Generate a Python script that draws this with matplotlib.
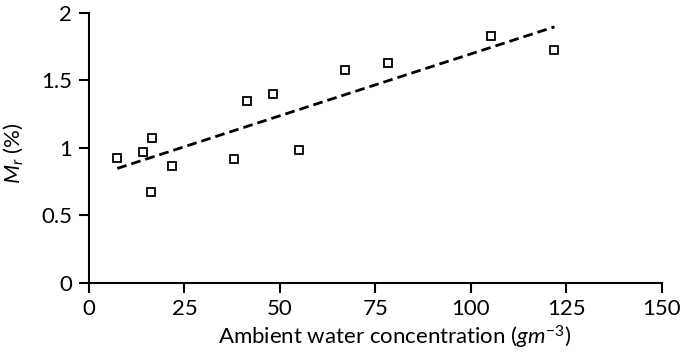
import numpy as np
import matplotlib
matplotlib.use("Agg")
import matplotlib.pyplot as plt

plt.rcParams["font.family"] = ["Lato", "DejaVu Sans"]
plt.rcParams["mathtext.fontset"] = "custom"
plt.rcParams["mathtext.rm"] = "Lato"
plt.rcParams["mathtext.it"] = "Lato:italic"

# ambient water concentration (g/m3) vs M_r (%)
water_conc = [7.4, 14.2, 16.4, 16.3, 21.8, 38.1, 41.4, 48.2, 55.1, 67.1, 78.2, 105.2, 121.9]
mr_pct = [0.926, 0.968, 1.072, 0.672, 0.867, 0.919, 1.346, 1.403, 0.981, 1.581, 1.630, 1.833, 1.724]

x_ticks = [0, 25, 50, 75, 100, 125, 150]
y_ticks = [0, 0.5, 1, 1.5, 2]
y_labels = ["0", "0.5", "1", "1.5", "2"]

fig = plt.figure(figsize=(6.81, 3.6), dpi=100)
ax = fig.add_axes([0.1307, 0.2147, 0.841, 0.7492])

ax.plot(water_conc, mr_pct, linestyle="none", marker="s", markersize=6,
        markerfacecolor="white", markeredgecolor="black", markeredgewidth=1.3)

# linear trend line over the data range
slope, icept = np.polyfit(water_conc, mr_pct, 1)
xs = np.array([min(water_conc), max(water_conc)])
ax.plot(xs, slope * xs + icept, color="black", linewidth=2, linestyle=(0, (3.5, 1.8)))

ax.set_xlim(0, 150)
ax.set_ylim(0, 2)
ax.set_xticks(x_ticks)
ax.set_yticks(y_ticks)
ax.set_yticklabels(y_labels)

for side in ["top", "right"]:
    ax.spines[side].set_visible(False)
for side in ["left", "bottom"]:
    ax.spines[side].set_linewidth(1.5)
ax.tick_params(axis="both", direction="out", length=7, width=1.5, labelsize=16, pad=5)

ax.set_xlabel(r"Ambient water concentration $\mathit{(gm^{-3})}$", fontsize=16, labelpad=3)
ax.xaxis.label.set_x(0.534)
ax.set_ylabel(r"$\mathit{M_r\ (\%)}$", fontsize=16)
ax.yaxis.set_label_coords(-0.112, 0.48)

fig.savefig("out.png", dpi=100)
